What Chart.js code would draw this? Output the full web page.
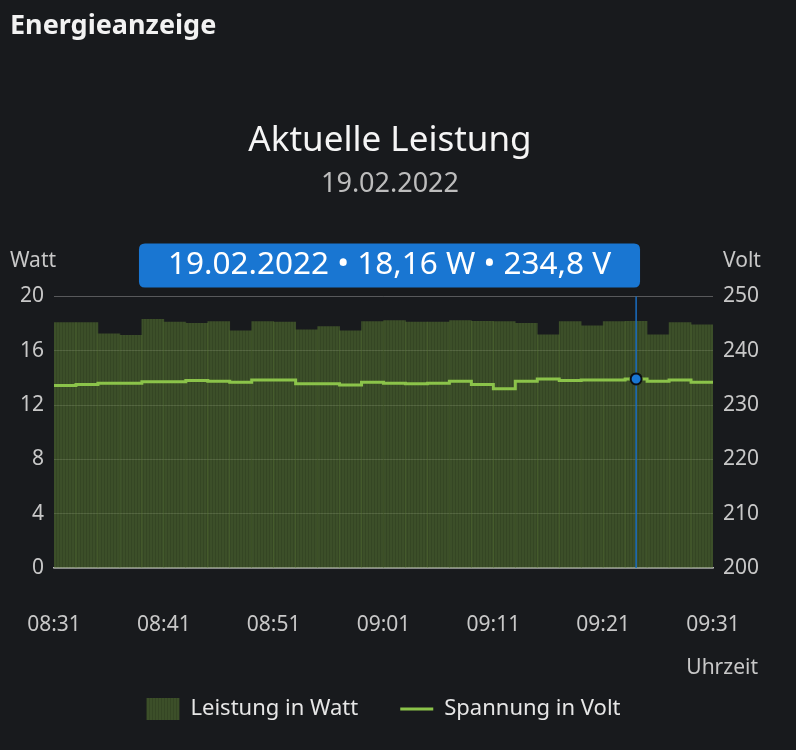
<!DOCTYPE html>
<html lang="de">
<head>
  <meta charset="UTF-8" />
  <title>Energieanzeige</title>
  <script src="https://cdn.jsdelivr.net/npm/chart.js"></script>
  <style>
    html, body {
      margin: 0;
      padding: 0;
      background: #181a1d;
    }
    body {
      width: 796px;
      height: 750px;
      position: relative;
      overflow: hidden;
      font-family: 'Noto Sans', sans-serif;
    }
    h1 {
      position: absolute;
      left: 10px;
      top: 5px;
      margin: 0;
      font-size: 27px;
      font-weight: 700;
      color: #f2f2f2;
    }
    #chart-container {
      position: absolute;
      left: 0;
      top: 0;
      width: 796px;
      height: 750px;
    }
  </style>
</head>
<body>
  <div id="chart-container">
    <canvas id="energyChart"></canvas>
  </div>
  <h1>Energieanzeige</h1>

  <script>
    // Data: 2-minute segments starting at 08:31
    const datum = '19.02.2022';
    const segmentStartMinutes = [0, 2, 4, 6, 8, 10, 12, 14, 16, 18, 20, 22, 24, 26, 28,
                                 30, 32, 34, 36, 38, 40, 42, 44, 46, 48, 50, 52, 54, 56, 58];
    const leistungWatt = [18.07, 18.07, 17.24, 17.14, 18.32, 18.10, 18.02, 18.14, 17.46, 18.14,
                          18.10, 17.53, 17.78, 17.46, 18.14, 18.22, 18.10, 18.10, 18.22, 18.17,
                          18.14, 18.02, 17.17, 18.14, 17.83, 18.14, 18.16, 17.17, 18.07, 17.90];
    const spannungVolt = [233.6, 233.8, 234.0, 234.0, 234.3, 234.3, 234.5, 234.4, 234.2, 234.6,
                          234.6, 233.9, 233.9, 233.7, 234.2, 234.0, 233.9, 234.0, 234.4, 233.8,
                          233.0, 234.4, 234.8, 234.5, 234.6, 234.6, 234.8, 234.4, 234.6, 234.2];
    const endMinute = 60;
    const timeTickLabels = ['08:31', '08:41', '08:51', '09:01', '09:11', '09:21', '09:31'];
    const activeSegment = 26;

    const tickColor = '#c8c8c8';
    Chart.defaults.font.family = "'Noto Sans', sans-serif";

    function fmtDe(v, digits) {
      return v.toFixed(digits).replace('.', ',');
    }

    // fine vertical stripes like the many thin bars in the original
    function stripePattern() {
      const c = document.createElement('canvas');
      c.width = 3;
      c.height = 1;
      const g = c.getContext('2d');
      g.fillStyle = 'rgba(82,110,48,0.64)';
      g.fillRect(0, 0, 2, 1);
      g.fillStyle = 'rgba(70,96,40,0.64)';
      g.fillRect(2, 0, 1, 1);
      return g.createPattern(c, 'repeat');
    }

    const barData = segmentStartMinutes.map((m, i) => ({ x: m + 1, y: leistungWatt[i] }));
    const lineData = segmentStartMinutes.map((m, i) => ({ x: m, y: spannungVolt[i] }));
    lineData.push({ x: endMinute, y: spannungVolt[spannungVolt.length - 1] });

    Chart.Tooltip.positioners.topBand = function () {
      const ca = this.chart.chartArea;
      return { x: (ca.left + ca.right) / 2 + 6, y: ca.top - 9, xAlign: 'center', yAlign: 'bottom' };
    };

    const overlayPlugin = {
      id: 'overlay',
      afterDatasetsDraw(chart) {
        const { ctx, chartArea, scales } = chart;
        const x = scales.x.getPixelForValue(segmentStartMinutes[activeSegment] + 1);
        const y = scales.yVolt.getPixelForValue(spannungVolt[activeSegment]);
        ctx.save();
        ctx.strokeStyle = '#1a6ec2';
        ctx.lineWidth = 1.5;
        ctx.beginPath();
        ctx.moveTo(x, chartArea.top);
        ctx.lineTo(x, chartArea.bottom);
        ctx.stroke();
        ctx.beginPath();
        ctx.arc(x, y, 5.5, 0, Math.PI * 2);
        ctx.fillStyle = '#1976d2';
        ctx.fill();
        ctx.lineWidth = 2;
        ctx.strokeStyle = '#0d0f12';
        ctx.stroke();

        ctx.font = "21px 'Noto Sans', sans-serif";
        ctx.fillStyle = tickColor;
        ctx.textBaseline = 'middle';
        ctx.textAlign = 'left';
        ctx.fillText('Watt', 10, chartArea.top - 35);
        ctx.fillText('Volt', scales.yVolt.left + 10, chartArea.top - 35);
        ctx.textAlign = 'right';
        ctx.fillText('Uhrzeit', 758, chartArea.bottom + 100);
        ctx.restore();
      }
    };

    const ctx = document.getElementById('energyChart').getContext('2d');
    const chart = new Chart(ctx, {
      type: 'bar',
      data: {
        datasets: [{
          type: 'bar',
          label: 'Leistung in Watt',
          data: barData,
          xAxisID: 'x',
          yAxisID: 'yWatt',
          backgroundColor: stripePattern(),
          borderWidth: 0,
          barPercentage: 1,
          categoryPercentage: 1,
          pointStyle: 'rect',
          order: 1
        }, {
          type: 'line',
          label: 'Spannung in Volt',
          data: lineData,
          xAxisID: 'x',
          yAxisID: 'yVolt',
          borderColor: '#8bc34a',
          backgroundColor: '#8bc34a',
          borderWidth: 3,
          stepped: true,
          pointRadius: 0,
          pointHoverRadius: 0,
          pointStyle: 'line',
          order: 0
        }]
      },
      options: {
        responsive: true,
        maintainAspectRatio: false,
        animation: false,
        events: [],
        layout: { padding: { left: 0, right: 16, top: 0, bottom: 20 } },
        scales: {
          x: {
            type: 'linear',
            position: 'bottom',
            min: 0,
            max: endMinute,
            offset: false,
            ticks: {
              stepSize: 10,
              color: tickColor,
              font: { size: 21 },
              padding: 44,
              maxRotation: 0,
              autoSkip: false,
              callback: v => timeTickLabels[v / 10]
            },
            grid: { display: false, drawTicks: false, offset: false },
            border: { display: true, color: '#b8b8b8', width: 1.5 },
            afterFit: s => {
              s.height = 88;
              s.paddingLeft = 28;
              s.paddingRight = 28;
            }
          },
          yWatt: {
            position: 'left',
            min: 0,
            max: 20,
            ticks: { stepSize: 4, color: tickColor, font: { size: 21 }, padding: 10 },
            grid: { color: 'rgba(255,255,255,0.28)', drawTicks: false },
            border: { display: false },
            afterFit: s => { s.width = 54; }
          },
          yVolt: {
            position: 'right',
            min: 200,
            max: 250,
            ticks: { stepSize: 10, color: tickColor, font: { size: 21 }, padding: 10 },
            grid: { display: false, drawTicks: false },
            border: { display: false },
            afterFit: s => { s.width = 67; }
          }
        },
        plugins: {
          title: {
            display: true,
            text: 'Aktuelle Leistung',
            color: '#f5f5f5',
            font: { size: 35, weight: 'normal' },
            padding: { top: 120, bottom: 6 }
          },
          subtitle: {
            display: true,
            text: datum,
            color: '#bdbdbd',
            font: { size: 27, weight: 'normal' },
            padding: { top: 0, bottom: 96 }
          },
          legend: {
            position: 'bottom',
            fullSize: false,
            labels: {
              color: '#e6e6e6',
              font: { size: 22 },
              usePointStyle: true,
              boxWidth: 33,
              boxHeight: 32,
              pointStyleWidth: 33,
              padding: 42,
              sort: (a, b) => a.datasetIndex - b.datasetIndex
            }
          },
          tooltip: {
            enabled: true,
            position: 'topBand',
            backgroundColor: '#1976d2',
            bodyColor: '#ffffff',
            bodyFont: { size: 31.5 },
            padding: { top: 3, bottom: 3, left: 29, right: 29 },
            cornerRadius: 6,
            caretSize: 0,
            caretPadding: 0,
            displayColors: false,
            callbacks: {
              title: () => '',
              label: c => datum + ' \u2022 ' + fmtDe(leistungWatt[c.dataIndex], 2) + ' W \u2022 ' +
                          fmtDe(spannungVolt[c.dataIndex], 1) + ' V'
            }
          }
        }
      },
      plugins: [overlayPlugin]
    });

    chart.tooltip.setActiveElements([{ datasetIndex: 0, index: activeSegment }], { x: 0, y: 0 });
    chart.update();
  </script>
</body>
</html>
